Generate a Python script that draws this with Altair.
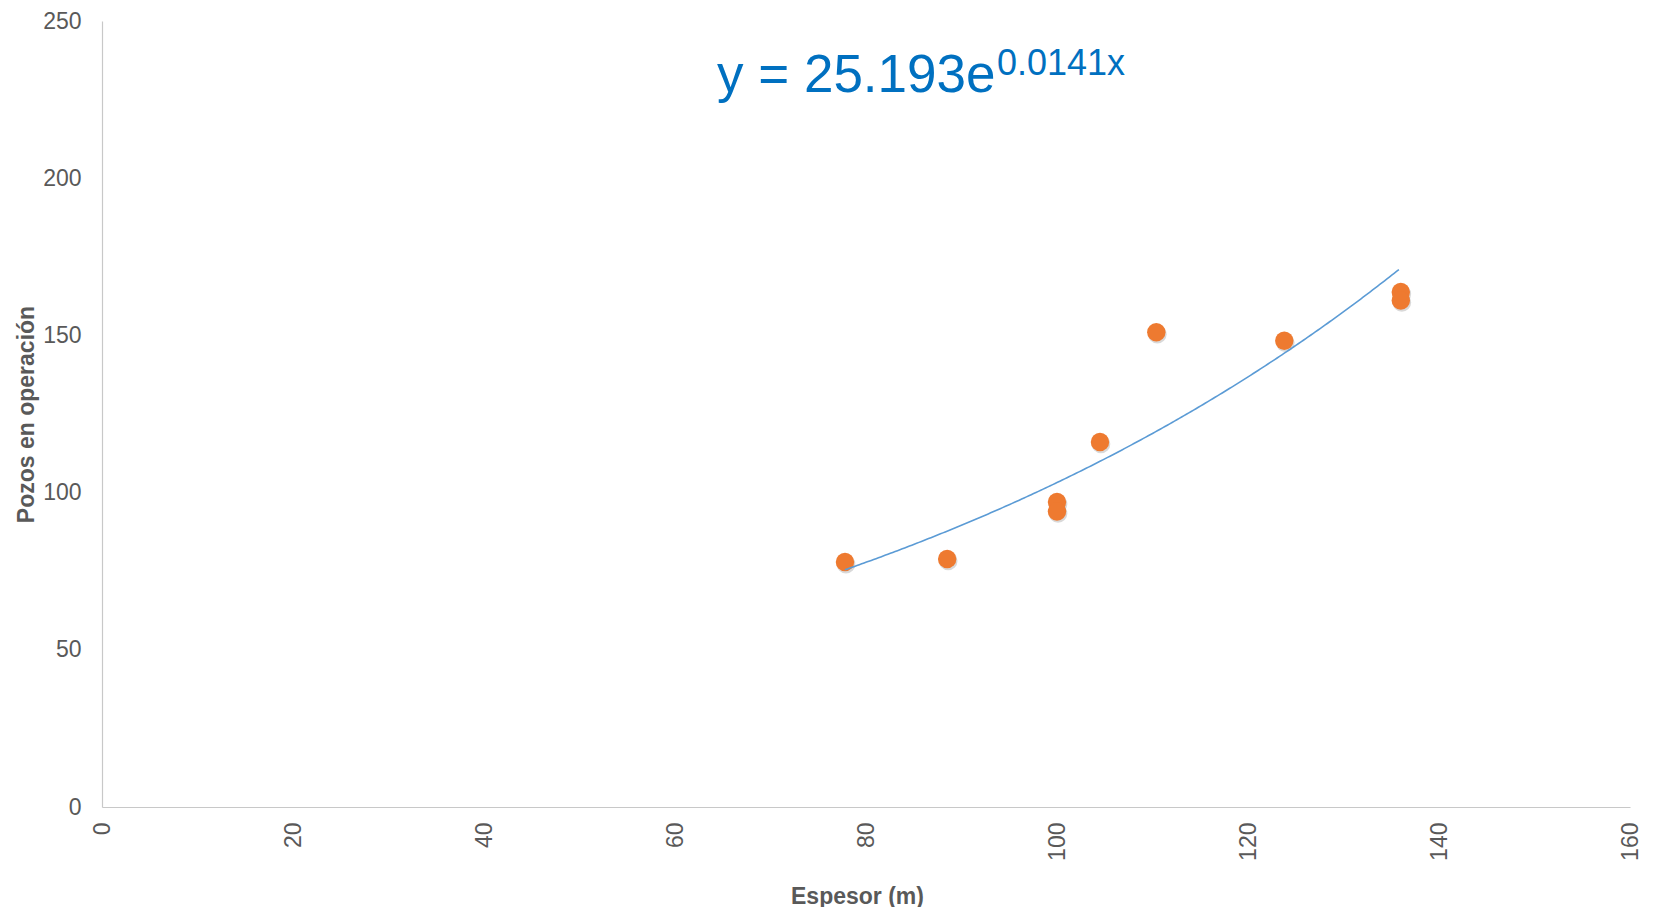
import altair as alt
import pandas as pd

# Data
espesor = [77.8, 88.5, 100.0, 100.0, 104.5, 110.4, 123.8, 136.0, 136.0]
pozos = [77.9, 78.9, 97.0, 94.0, 116.1, 151.0, 148.3, 163.8, 161.1]

# Exponential trendline (as labelled on the chart)
coef_a = 25.193
coef_b = 0.0141
eq_main = "y = 25.193e"
eq_sup = "0.0141x"

x_ticks = [0, 20, 40, 60, 80, 100, 120, 140, 160]
y_ticks = [0, 50, 100, 150, 200, 250]

df = pd.DataFrame({"Espesor": espesor, "Pozos": pozos})

FONT = "Liberation Sans"
GRAY = "#595959"

xscale = alt.Scale(domain=[0, 160], nice=False, zero=False)
yscale = alt.Scale(domain=[0, 250], nice=False)

x_axis = alt.Axis(
    values=x_ticks, labelAngle=-90, labelFontSize=23, labelColor=GRAY,
    labelFont=FONT, labelPadding=15, ticks=False, grid=False,
    domainColor="#C8C8C8", domainWidth=1.2,
    title="Espesor (m)", titleFont=FONT, titleFontSize=23, titleFontWeight="bold",
    titleColor=GRAY, titleX=755, titleY=89, titleBaseline="middle", titleAlign="center",
)
y_axis = alt.Axis(
    values=y_ticks, labelFontSize=23, labelColor=GRAY, labelFont=FONT,
    labelPadding=21, ticks=False, grid=False, domainColor="#C8C8C8", domainWidth=1.2,
    title="Pozos en operación", titleFont=FONT, titleFontSize=23, titleFontWeight="bold",
    titleColor=GRAY, titleX=-76, titleY=393, titleAngle=-90, titleBaseline="middle",
    titleAlign="center",
)

trend = (
    alt.Chart(alt.sequence(min(espesor), max(espesor) + 0.01, 0.25, as_="xv"))
    .transform_calculate(yv=f"{coef_a}*exp({coef_b}*datum.xv)")
    .mark_line(color="#5B9BD5", strokeWidth=1.6)
    .encode(
        x=alt.X("xv:Q", scale=xscale, axis=x_axis),
        y=alt.Y("yv:Q", scale=yscale, axis=y_axis),
    )
)

shadow = (
    alt.Chart(df)
    .mark_circle(color="#000000", opacity=0.15, size=350)
    .encode(
        x=alt.X("Espesor:Q", scale=xscale, axis=x_axis),
        y=alt.Y("Pozos:Q", scale=yscale, axis=y_axis),
        yOffset=alt.value(2),
        xOffset=alt.value(1),
    )
)

points = (
    alt.Chart(df)
    .mark_circle(color="#EE7A30", opacity=1, size=340)
    .encode(
        x=alt.X("Espesor:Q", scale=xscale, axis=x_axis),
        y=alt.Y("Pozos:Q", scale=yscale, axis=y_axis),
    )
)

txt_main = (
    alt.Chart(pd.DataFrame({"t": [eq_main]}))
    .mark_text(align="left", baseline="alphabetic", font=FONT, fontSize=53, color="#0070C0")
    .encode(text="t:N", x=alt.value(615), y=alt.value(71))
)
txt_sup = (
    alt.Chart(pd.DataFrame({"t": [eq_sup]}))
    .mark_text(align="left", baseline="alphabetic", font=FONT, fontSize=36, color="#0070C0")
    .encode(text="t:N", x=alt.value(895), y=alt.value(54))
)

chart = (
    alt.layer(shadow, points, trend, txt_main, txt_sup)
    .properties(
        width=1528, height=786,
        background="white",
        autosize=alt.AutoSizeParams(type="none"),
        padding={"left": 94, "top": 13, "right": 16, "bottom": 100},
    )
    .configure_view(strokeWidth=0, stroke="transparent")
)

chart.save("out.html", embed_options={"renderer": "svg", "actions": False})
